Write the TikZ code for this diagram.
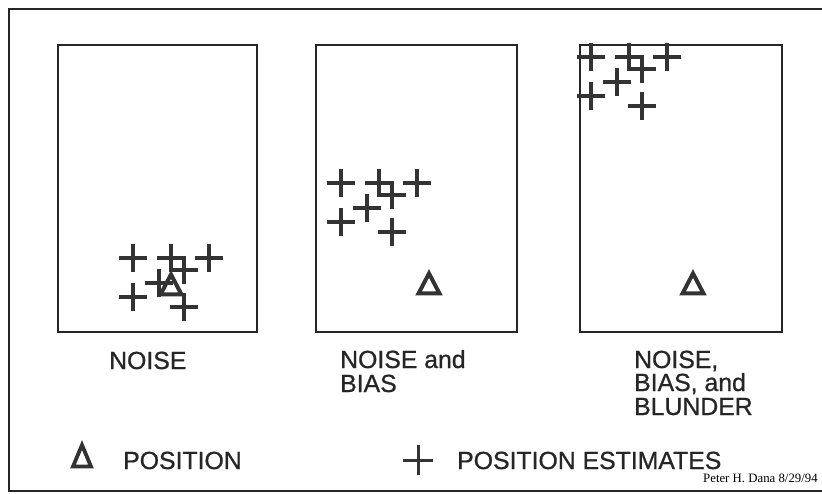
\documentclass[tikz,border=0pt]{standalone}
\usepackage{fontspec}
\setmainfont{Liberation Sans}
\newfontfamily\labelfont{Liberation Sans}[FakeBold=0.8]
\newfontfamily\creditfont{Liberation Serif}
\begin{document}
\begin{tikzpicture}[x=1pt,y=-1pt,
  frame/.style={draw=black!85, line width=2.6pt},
  label/.style={anchor=base west, inner sep=0pt, text=black!85, font=\labelfont\fontsize{24.8}{24.8}\selectfont},
  estimate/.pic={\draw[line width=3.4pt, black!80] (-14,0) -- (14,0) (0,-14) -- (0,14);},
  truepos/.pic={\draw[line width=4pt, black!80, line join=miter] (0,-10.5) -- (10.5,9.5) -- (-10.5,9.5) -- cycle;},
  legendpos/.pic={\draw[line width=3.8pt, black!80, line join=miter] (0,-11) -- (9,10.5) -- (-9,10.5) -- cycle;}]
  \useasboundingbox (0,0) rectangle (822,494);
  \fill[white] (0,0) rectangle (822,494);

  % outer border
  \draw[draw=black!85, line width=2pt] (840,9) -- (9,9) -- (9,491) -- (840,491);

  % the three panels
  \draw[frame] (58,45) rectangle (257,332);
  \draw[frame] (316,45) rectangle (517,332);
  \draw[frame] (580,45) rectangle (782,332);

  % true positions
  \pic at (171,285) {truepos};
  \pic at (429,284) {truepos};
  \pic at (693,284) {truepos};

  % position estimates: same scatter pattern, shifted per panel
  \foreach \bx/\by in {133/258, 341/183, 591/57}{
    \foreach \dx/\dy in {0/0, 38/0, 76/0, 0/39, 26/25, 51/12, 51/49}{
      \pic at (\bx+\dx,\by+\dy) {estimate};
    }
  }

  % panel captions
  \node[label] (c1) at (109,369) {NOISE};
  \node[label] (c2a) at (340,368) {NOISE and};
  \node[label] (c2b) at (340,392) {BIAS};
  \node[label] (c3a) at (634,368) {NOISE,};
  \node[label] (c3b) at (634,391) {BIAS, and};
  \node[label] (c3c) at (634,415) {BLUNDER};

  % legend
  \pic at (82,456) {legendpos};
  \node[label] (lpos) at (123,469) {POSITION};
  \draw[line width=3pt, black!80] (403,460) -- (433,460) (418,445) -- (418,475);
  \node[label] (lest) at (457,469) {POSITION ESTIMATES};

  % credit line
  \node[anchor=base west, inner sep=0pt, font=\creditfont\fontsize{12.8}{12.8}\selectfont] (credit) at (703,482) {Peter H. Dana 8/29/94};
\end{tikzpicture}
\end{document}
